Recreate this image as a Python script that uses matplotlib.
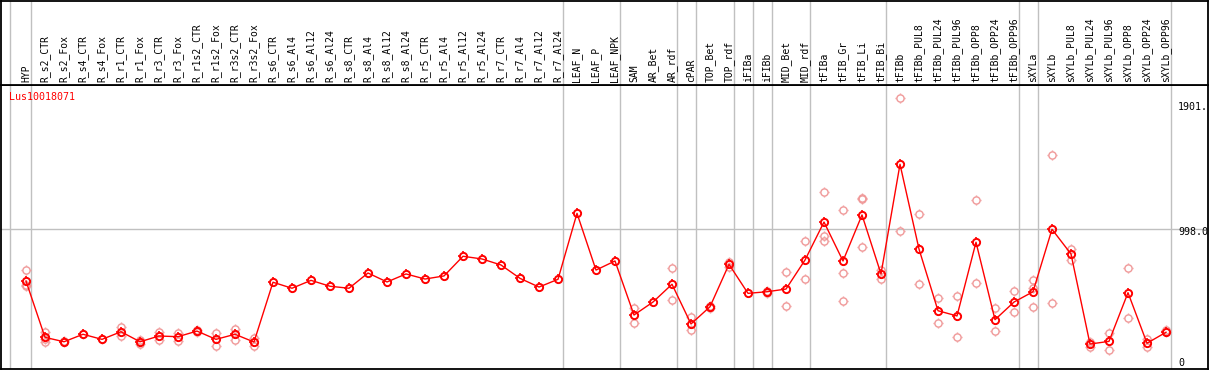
import matplotlib
matplotlib.use("Agg")
import matplotlib.pyplot as plt
from matplotlib.path import Path
import matplotlib.transforms as mtransforms
import numpy as np

# ---------------- data ----------------
categories = [
    "HYP", "R_s2_CTR", "R_s2_Fox", "R_s4_CTR", "R_s4_Fox", "R_r1_CTR", "R_r1_Fox",
    "R_r3_CTR", "R_r3_Fox", "R_r1s2_CTR", "R_r1s2_Fox", "R_r3s2_CTR", "R_r3s2_Fox",
    "R_s6_CTR", "R_s6_Al4", "R_s6_Al12", "R_s6_Al24", "R_s8_CTR", "R_s8_Al4",
    "R_s8_Al12", "R_s8_Al24", "R_r5_CTR", "R_r5_Al4", "R_r5_Al12", "R_r5_Al24",
    "R_r7_CTR", "R_r7_Al4", "R_r7_Al12", "R_r7_Al24", "LEAF_N", "LEAF_P", "LEAF_NPK",
    "SAM", "AR_Bet", "AR_rdf", "cPAR", "TOP_Bet", "TOP_rdf", "iFIBa", "iFIBb",
    "MID_Bet", "MID_rdf", "tFIBa", "tFIB_Gr", "tFIB_Li", "tFIB_Bi", "tFIBb",
    "tFIBb_PUL8", "tFIBb_PUL24", "tFIBb_PUL96", "tFIBb_OPP8", "tFIBb_OPP24",
    "tFIBb_OPP96", "sXYLa", "sXYLb", "sXYLb_PUL8", "sXYLb_PUL24", "sXYLb_PUL96",
    "sXYLb_OPP8", "sXYLb_OPP24", "sXYLb_OPP96",
]

mean_values = [
    609, 188, 155, 211, 173, 230, 155, 198, 193, 235, 173, 211, 153,
    600, 555, 614, 570, 555, 669, 602, 662, 624, 647, 794, 774,
    729, 629, 564, 622, 1115, 691, 759,
    355, 452, 585, 288, 417, 734, 517, 529,
    549, 766, 1050, 759, 1103, 662, 1482,
    848, 387, 348, 899, 320,
    452, 529, 996, 811, 138, 158,
    522, 144, 226,
]

replicate_values = [
    [689, 579, 572], [230, 179, 155], [160, 150], [211], [173], [263, 198], [165, 140],
    [230, 168], [223, 161], [243, 228], [223, 123], [253, 166], [181, 126],
    [], [], [], [], [], [], [], [], [], [], [], [],
    [], [], [], [], [], [], [],
    [405, 293], [], [704, 467], [342, 241], [425, 407], [754, 714], [], [538, 520],
    [674, 422], [908, 624], [1272, 946, 911], [1138, 669, 460], [1227, 1220, 861], [691, 626], [1975, 983],
    [1108, 585], [480, 293], [495, 188], [1213, 592], [405, 233],
    [535, 375], [617, 555, 413], [1549, 443], [848, 766], [155, 118], [218, 96],
    [704, 333], [173, 114], [243, 226],
]

gene_label = "Lus10018071"
group_ends = ["HYP", "R_r7_Al24", "LEAF_NPK", "AR_rdf", "cPAR", "TOP_rdf", "iFIBa",
              "iFIBb", "MID_rdf", "tFIB_Bi", "tFIBb_OPP96", "sXYLa", "sXYLb_OPP96"]
y_tick_values = [1901, 998, 0]
y_tick_labels = ["1901.", "998.0", "0"]

# ---------------- layout ----------------
W, H = 1209, 370
fig = plt.figure(figsize=(W / 100, H / 100), dpi=100)

px_left, px_right = 1.0, 1207.5
x0_px, dx_px = 26.0, 19.0
xmin = (px_left - x0_px) / dx_px
xmax = (px_right - x0_px) / dx_px

y0_px, scale = 362.5, 0.13377
header_bottom_px = 85.0
plot_bottom_px = 369.0
ymin = (y0_px - plot_bottom_px) / scale
ymax = (y0_px - header_bottom_px) / scale

left_f = px_left / W
width_f = (px_right - px_left) / W
ax = fig.add_axes([left_f, (H - plot_bottom_px) / H, width_f,
                   (plot_bottom_px - header_bottom_px) / H])
hax = fig.add_axes([left_f, (H - header_bottom_px) / H, width_f,
                    (header_bottom_px - 0.8) / H], sharex=ax)

grid_color = "#c0c0c0"
for a in (ax, hax):
    a.set_xlim(xmin, xmax)
    for s in a.spines.values():
        s.set_linewidth(1.3)
        s.set_color("black")
    a.tick_params(left=False, bottom=False, labelleft=False, labelbottom=False,
                  right=False, top=False)
    a.set_facecolor("white")

ax.set_ylim(ymin, ymax)
hax.set_ylim(0, 1)

# vertical group separators
boundaries = [(0 - 16.0 / dx_px)] + [categories.index(g) + 4.7 / dx_px for g in group_ends]
for b in boundaries:
    ax.axvline(b, color=grid_color, lw=1.0, zorder=1)
    hax.axvline(b, color=grid_color, lw=1.0, zorder=1)

# horizontal gridline
ax.axhline(998, color=grid_color, lw=1.0, zorder=1)

# tick marks around circle markers
segs = []
for ang in (0, np.pi / 2, np.pi, 3 * np.pi / 2):
    c, s = np.cos(ang), np.sin(ang)
    segs.append(Path([(c * 0.72, s * 0.72), (c * 1.0, s * 1.0)], [Path.MOVETO, Path.LINETO]))
tick_path = Path.make_compound_path(*segs)

x = np.arange(len(categories))

circle_ms = 5.2
tick_ms = 7.4

# replicates
rx, ry = [], []
for i, reps in enumerate(replicate_values):
    for v in reps:
        rx.append(i)
        ry.append(v)
rep_color = "#f09898"
ax.plot(rx, ry, linestyle="none", marker="o", markersize=circle_ms,
        markerfacecolor="none", markeredgecolor=rep_color, markeredgewidth=1.0, zorder=2)
ax.plot(rx, ry, linestyle="none", marker=tick_path, markersize=tick_ms,
        markerfacecolor="none", markeredgecolor=rep_color, markeredgewidth=1.0, zorder=2)

# mean line
ax.plot(x, mean_values, color="red", lw=1.0, zorder=3)
ax.plot(x, mean_values, linestyle="none", marker="o", markersize=circle_ms,
        markerfacecolor="none", markeredgecolor="red", markeredgewidth=1.4, zorder=4)
ax.plot(x, mean_values, linestyle="none", marker=tick_path, markersize=tick_ms,
        markerfacecolor="none", markeredgecolor="red", markeredgewidth=1.2, zorder=4)

mono = "DejaVu Sans Mono"

# header labels
htrans = mtransforms.blended_transform_factory(hax.transData, hax.transAxes)
for i, lab in enumerate(categories):
    hax.text(i, 2.5 / (header_bottom_px - 0.8), lab, rotation=90, ha="center", va="bottom",
             fontsize=7, family=mono, color="black", transform=htrans)

# gene label
ax.text((9.0 - px_left) / (px_right - px_left), (plot_bottom_px - 97.5) / (plot_bottom_px - header_bottom_px),
        gene_label, color="red", fontsize=7.2, family=mono, ha="left", va="center",
        transform=ax.transAxes)

# right-side value labels (998.0 sits slightly below its gridline in the reference)
lab_x = (1178.0 - x0_px) / dx_px
label_offsets_px = [1.5, -3.0, 0.0]
for v, t, off in zip(y_tick_values, y_tick_labels, label_offsets_px):
    tr = ax.transData + mtransforms.ScaledTranslation(0, off / 100.0, fig.dpi_scale_trans)
    ax.text(lab_x, v, t, fontsize=7.2, family=mono, ha="left", va="center", color="black",
            transform=tr)

fig.savefig("out.png", dpi=100, facecolor="white")
